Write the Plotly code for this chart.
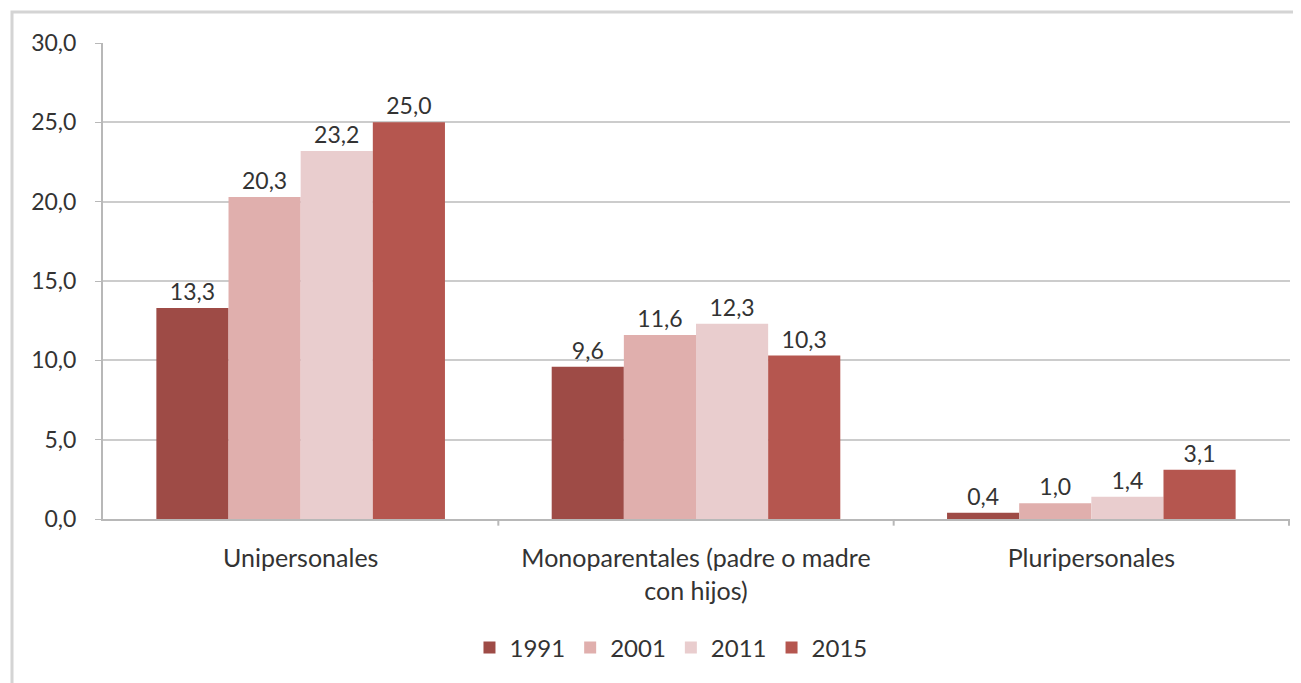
import plotly.graph_objects as go

categories = ["Unipersonales", "Monoparentales (padre o madre<br>con hijos)", "Pluripersonales"]
years = ["1991", "2001", "2011", "2015"]
v1991 = [13.3, 9.6, 0.4]
v2001 = [20.3, 11.6, 1.0]
v2011 = [23.2, 12.3, 1.4]
v2015 = [25.0, 10.3, 3.1]
series = [v1991, v2001, v2011, v2015]
colors = ["#9e4b46", "#e0afad", "#e9cdce", "#b5564f"]

W, H = 1293, 675
L, R, T, B = 95, 11, 35, 164
PW, PH = W - L - R, H - T - B

font_family = "Lato, 'Open Sans', sans-serif"
fig = go.Figure()
for name, vals, col in zip(years, series, colors):
    fig.add_trace(go.Bar(
        x=categories, y=vals, name=name, marker=dict(color=col, line=dict(width=0)),
        text=[f"{v:.1f}".replace(".", ",") for v in vals], textposition="outside",
        textfont=dict(size=23, color="#333333", family=font_family), cliponaxis=False,
    ))

fig.update_layout(
    barmode="group", bargap=0.27, bargroupgap=0,
    width=W, height=H,
    margin=dict(l=L, r=R, t=T, b=B),
    paper_bgcolor="white", plot_bgcolor="white",
    separators=",.",
    font=dict(family=font_family, size=23, color="#333333"),
    legend=dict(orientation="h", x=0.4785, xanchor="center", y=-(640 - T - PH) / PH,
                yanchor="middle", font=dict(size=24), itemwidth=30),
    xaxis=dict(showline=True, linecolor="#b8b8b8", linewidth=2, ticks="", tickfont=dict(size=25),
               showgrid=False, ticklabelstandoff=16),
    yaxis=dict(range=[0, 30], dtick=5, tickformat=".1f", showgrid=True, gridcolor="#cccccc",
               gridwidth=2, showline=True, linecolor="#b8b8b8", linewidth=2, ticks="outside",
               ticklen=6, tickcolor="#b8b8b8", tickfont=dict(size=23), zeroline=False,
               ticklabelstandoff=14),
    shapes=[dict(type="rect", xref="paper", yref="paper",
                 x0=(4 - L) / PW, x1=(W + 20 - L) / PW,
                 y0=-(H + 20 - T - PH) / PH, y1=(PH + T - 4) / PH,
                 line=dict(color="#d4d4d4", width=3), layer="below")],
)
for xb in [0.5, 1.5, 2.5]:
    fig.add_shape(type="line", xref="x", yref="paper", x0=xb, x1=xb, y0=0, y1=-0.014,
                  line=dict(color="#b8b8b8", width=2))

fig.write_html("out.html")
